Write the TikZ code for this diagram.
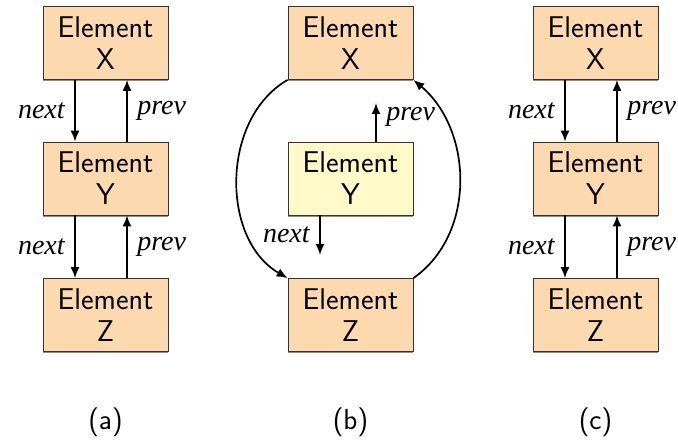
\documentclass[tikz,border=0pt]{standalone}
\usepackage{fontspec}
\newfontfamily\lblfont{Liberation Serif}
\usetikzlibrary{arrows.meta,shadows}
\definecolor{peach}{RGB}{253,217,176}
\definecolor{paleyellow}{RGB}{255,250,200}
\begin{document}
\begin{tikzpicture}[x=1pt,y=1pt,
  elem/.style={draw=black!80, line width=0.8pt, fill=peach,
    minimum width=125pt, minimum height=73pt, align=center, inner sep=0pt,
    font=\fontsize{30}{32}\selectfont\sffamily,
    general shadow={fill=black!45, shadow yshift=-1.5pt}},
  elemy/.style={elem, fill=paleyellow},
  lbl/.style={font=\fontsize{28}{30}\selectfont\lblfont\itshape, inner xsep=9.5pt, inner ysep=3pt},
  arr/.style={line width=1.7pt, -{Latex[length=11pt,width=9pt]}},
  captext/.style={font=\fontsize{29}{32}\selectfont\sffamily}
]
\useasboundingbox (0,0) rectangle (678,-442);

% (a)
\node[elem] (ax) at (105.5,-43) {Element\\X};
\node[elem] (ay) at (105.5,-178.5) {Element\\Y};
\node[elem] (az) at (105.5,-315) {Element\\Z};
\draw[arr] ([xshift=-30.5pt]ax.south) -- node[lbl,left]{next} ([xshift=-30.5pt]ay.north);
\draw[arr] ([xshift=21.5pt]ay.north) -- node[lbl,right]{prev} ([xshift=21.5pt]ax.south);
\draw[arr] ([xshift=-30.5pt]ay.south) -- node[lbl,left]{next} ([xshift=-30.5pt]az.north);
\draw[arr] ([xshift=21.5pt]az.north) -- node[lbl,right]{prev} ([xshift=21.5pt]ay.south);

% (b)
\node[elem] (bx) at (350.5,-43) {Element\\X};
\node[elemy] (by) at (350.5,-178.5) {Element\\Y};
\node[elem] (bz) at (350.5,-315) {Element\\Z};
\coordinate (bp) at (376,-103);
\coordinate (bn) at (320,-255);
\draw[arr] ([xshift=25.5pt]by.north) -- node[lbl,right,pos=0.65]{prev} (bp);
\draw[arr] ([xshift=-30.5pt]by.south) -- node[lbl,left]{next} (bn);
\draw[arr] (bx.south west) to[out=210,in=150] (bz.north west);
\draw[arr] (bz.north east) to[out=35,in=-40] (bx.south east);

% (c)
\node[elem] (cx) at (595.5,-43) {Element\\X};
\node[elem] (cy) at (595.5,-178.5) {Element\\Y};
\node[elem] (cz) at (595.5,-315) {Element\\Z};
\draw[arr] ([xshift=-30.5pt]cx.south) -- node[lbl,left]{next} ([xshift=-30.5pt]cy.north);
\draw[arr] ([xshift=21.5pt]cy.north) -- node[lbl,right]{prev} ([xshift=21.5pt]cx.south);
\draw[arr] ([xshift=-30.5pt]cy.south) -- node[lbl,left]{next} ([xshift=-30.5pt]cz.north);
\draw[arr] ([xshift=21.5pt]cz.north) -- node[lbl,right]{prev} ([xshift=21.5pt]cy.south);

% captions
\node[captext] (ca) at (105.5,-422) {(a)};
\node[captext] (cb) at (350.5,-422) {(b)};
\node[captext] (cc) at (595.5,-422) {(c)};
\end{tikzpicture}
\end{document}
